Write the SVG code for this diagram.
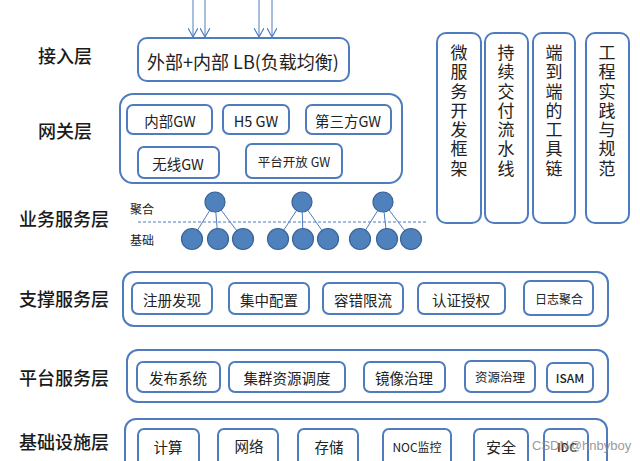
<svg xmlns="http://www.w3.org/2000/svg" width="640" height="461" viewBox="0 0 640 461">
<defs>
<style>
.bx{fill:#fff;stroke:#4f7cbf;stroke-width:2}
.lbl{font-family:"Noto Sans CJK SC","Noto Sans",sans-serif;font-size:18px;font-weight:500;fill:#1a1a1a;text-anchor:middle;dominant-baseline:central}
.t{font-family:"Noto Sans CJK SC","Noto Sans",sans-serif;font-size:14.5px;fill:#222;text-anchor:middle;dominant-baseline:central}
.s{font-size:12.5px}
.v{font-family:"Noto Sans CJK SC","Noto Sans",sans-serif;font-size:17px;fill:#222;writing-mode:vertical-rl;text-orientation:upright;letter-spacing:2.3px}
.nd{fill:#4f81bd;stroke:#3a6398;stroke-width:1.2}
.ln{stroke:#4f7cbf;stroke-width:1;fill:none}
</style>
<marker id="ah" viewBox="0 0 10 10" refX="9" refY="5" markerWidth="10" markerHeight="10" markerUnits="userSpaceOnUse" orient="auto">
<path d="M0,0 L9,5 L0,10" fill="none" stroke="#4f7cbf" stroke-width="1.2"/>
</marker>
</defs>
<rect width="640" height="461" fill="#fff"/>

<g id="labels">
<text class="lbl" x="65" y="55">接入层</text>
<text class="lbl" x="65" y="130">网关层</text>
<text class="lbl" x="64" y="218">业务服务层</text>
<text class="lbl" x="64" y="298">支撑服务层</text>
<text class="lbl" x="64" y="377">平台服务层</text>
<text class="lbl" x="64" y="441">基础设施层</text>
</g>

<g id="connectors">
<line class="ln" x1="193" y1="0" x2="193" y2="37" marker-end="url(#ah)"/>
<line class="ln" x1="205" y1="0" x2="205" y2="37" marker-end="url(#ah)"/>
<line class="ln" x1="259" y1="0" x2="259" y2="37" marker-end="url(#ah)"/>
<line class="ln" x1="272" y1="0" x2="272" y2="37" marker-end="url(#ah)"/>
<line class="ln" x1="138" y1="222" x2="427" y2="222" stroke-dasharray="3,2"/>
<line class="ln" x1="215" y1="202" x2="192" y2="239"/>
<line class="ln" x1="215" y1="202" x2="218" y2="239"/>
<line class="ln" x1="215" y1="202" x2="243" y2="239"/>
<line class="ln" x1="302" y1="202" x2="278" y2="239"/>
<line class="ln" x1="302" y1="202" x2="303" y2="239"/>
<line class="ln" x1="302" y1="202" x2="328" y2="239"/>
<line class="ln" x1="383" y1="202" x2="360" y2="239"/>
<line class="ln" x1="383" y1="202" x2="387" y2="239"/>
<line class="ln" x1="383" y1="202" x2="411" y2="239"/>
</g>

<g id="access">
<rect class="bx" x="138" y="38" width="211" height="43" rx="9"/>
<text class="t" x="243" y="61" style="font-size:18px">外部+内部 LB(负载均衡)</text>
</g>

<g id="gateway">
<rect class="bx" x="120" y="94" width="282" height="89" rx="13"/>
<g id="gw-inner"><rect class="bx" x="127" y="105" width="85" height="29" rx="6"/><text class="t" x="170" y="120">内部GW</text></g>
<g id="gw-h5"><rect class="bx" x="223" y="105" width="66" height="29" rx="6"/><text class="t" x="256" y="120">H5 GW</text></g>
<g id="gw-third"><rect class="bx" x="306" y="105" width="85" height="29" rx="6"/><text class="t" x="348" y="120">第三方GW</text></g>
<g id="gw-wireless"><rect class="bx" x="138" y="147" width="81" height="31" rx="6"/><text class="t" x="178" y="163">无线GW</text></g>
<g id="gw-open"><rect class="bx" x="246" y="144" width="96" height="34" rx="6"/><text class="t s" x="294" y="161">平台开放 GW</text></g>
</g>

<g id="business">
<text class="t" x="142" y="208" style="font-size:12px">聚合</text>
<text class="t" x="142" y="239" style="font-size:12px">基础</text>
<circle class="nd" cx="215" cy="202" r="10"/>
<circle class="nd" cx="302" cy="202" r="10"/>
<circle class="nd" cx="383" cy="202" r="10"/>
<circle class="nd" cx="192" cy="239" r="10.5"/>
<circle class="nd" cx="218" cy="239" r="10.5"/>
<circle class="nd" cx="243" cy="239" r="10.5"/>
<circle class="nd" cx="278" cy="239" r="10.5"/>
<circle class="nd" cx="303" cy="239" r="10.5"/>
<circle class="nd" cx="328" cy="239" r="10.5"/>
<circle class="nd" cx="360" cy="239" r="10.5"/>
<circle class="nd" cx="387" cy="239" r="10.5"/>
<circle class="nd" cx="411" cy="239" r="10.5"/>
</g>

<g id="support">
<rect class="bx" x="123" y="272" width="485" height="54" rx="11"/>
<g id="sp1"><rect class="bx" x="132" y="283" width="80" height="31" rx="6"/><text class="t" x="172" y="299">注册发现</text></g>
<g id="sp2"><rect class="bx" x="229" y="283" width="80" height="31" rx="6"/><text class="t" x="269" y="299">集中配置</text></g>
<g id="sp3"><rect class="bx" x="323" y="283" width="80" height="31" rx="6"/><text class="t" x="363" y="299">容错限流</text></g>
<g id="sp4"><rect class="bx" x="418" y="283" width="87" height="31" rx="6"/><text class="t" x="461" y="299">认证授权</text></g>
<g id="sp5"><rect class="bx" x="524" y="281" width="69" height="34" rx="6"/><text class="t" x="559" y="298" style="font-size:12px">日志聚合</text></g>
</g>

<g id="platform">
<rect class="bx" x="127" y="350" width="481" height="52" rx="11"/>
<g id="pf1"><rect class="bx" x="137" y="362" width="83" height="30" rx="6"/><text class="t" x="178" y="377">发布系统</text></g>
<g id="pf2"><rect class="bx" x="229" y="362" width="116" height="30" rx="6"/><text class="t" x="287" y="377">集群资源调度</text></g>
<g id="pf3"><rect class="bx" x="364" y="362" width="81" height="30" rx="6"/><text class="t" x="404" y="377">镜像治理</text></g>
<g id="pf4"><rect class="bx" x="465" y="361" width="70" height="31" rx="6"/><text class="t s" x="500" y="376">资源治理</text></g>
<g id="pf5"><rect class="bx" x="547" y="363" width="46" height="29" rx="6"/><text class="t" x="570" y="377" style="font-size:12px;font-weight:500">ISAM</text></g>
</g>

<g id="infra">
<rect class="bx" x="125" y="419" width="482" height="60" rx="11"/>
<g id="in1"><rect class="bx" x="138" y="429" width="61" height="40" rx="6"/><text class="t" x="168" y="446">计算</text></g>
<g id="in2"><rect class="bx" x="218" y="429" width="60" height="40" rx="6"/><text class="t" x="249" y="445">网络</text></g>
<g id="in3"><rect class="bx" x="298" y="429" width="60" height="40" rx="6"/><text class="t" x="329" y="446">存储</text></g>
<g id="in4"><rect class="bx" x="383" y="429" width="68" height="40" rx="6"/><text class="t" x="417" y="446" style="font-size:12px">NOC监控</text></g>
<g id="in5"><rect class="bx" x="474" y="429" width="54" height="40" rx="6"/><text class="t" x="501" y="446" style="font-size:15px">安全</text></g>
<g id="in6"><rect class="bx" x="544" y="429" width="44" height="40" rx="6"/><text class="t" x="567" y="446" style="font-size:12px;font-weight:500">IDC</text></g>
</g>

<g id="col1">
<rect class="bx" x="437" y="33" width="44" height="190" rx="9"/>
<text class="v" x="459" y="44">微服务开发框架</text>
</g>
<g id="col2">
<rect class="bx" x="485" y="33" width="43" height="190" rx="9"/>
<text class="v" x="506" y="44">持续交付流水线</text>
</g>
<g id="col3">
<rect class="bx" x="533" y="33" width="42" height="190" rx="9"/>
<text class="v" x="554" y="44">端到端的工具链</text>
</g>
<g id="col4">
<rect class="bx" x="586" y="33" width="43" height="190" rx="9"/>
<text class="v" x="607" y="44">工程实践与规范</text>
</g>

<text x="532" y="450" style="font-family:'Liberation Sans',sans-serif;font-size:13px;fill:#8a8a8a;opacity:0.85">CSDN@hnbyboy</text>
</svg>
